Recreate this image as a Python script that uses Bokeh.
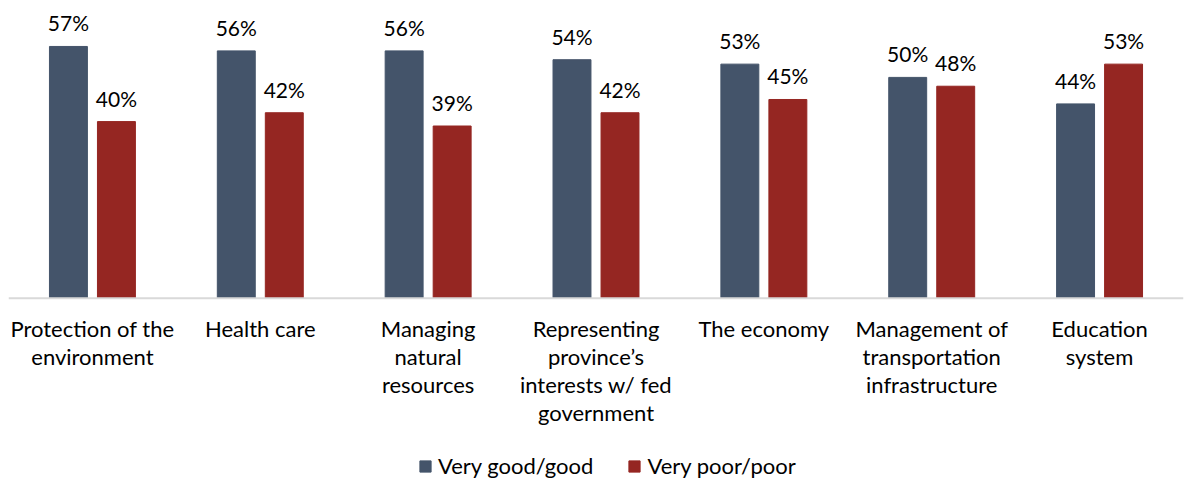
from bokeh.plotting import figure
from bokeh.models import ColumnDataSource, Range1d, Legend, LegendItem, Span
from bokeh.transform import dodge
from bokeh.core.properties import value
from bokeh.embed import file_html
from bokeh.resources import INLINE

categories = ["Protection of the\nenvironment", "Health care", "Managing\nnatural\nresources",
              "Representing\nprovince’s\ninterests w/ fed\ngovernment", "The economy",
              "Management of\ntransportation\ninfrastructure", "Education\nsystem"]
good = [57, 56, 56, 54, 53, 50, 44]
poor = [40, 42, 39, 42, 45, 48, 53]
series_names = ["Very good/good", "Very poor/poor"]

FONT = "Lato"
BLUE = "#44546a"
RED = "#952622"

src = ColumnDataSource(dict(
    cat=categories, good=good, poor=poor, zero=[0] * len(categories),
    good_lbl=[f"{v}%" for v in good], poor_lbl=[f"{v}%" for v in poor],
))

p = figure(x_range=categories, y_range=Range1d(-41.9, 67.4), width=1189, height=483,
           output_backend="svg", toolbar_location=None,
           min_border_left=8, min_border_right=6, min_border_top=0, min_border_bottom=0)

r1 = p.vbar(x=dodge("cat", -0.143, range=p.x_range), top="good", width=0.226, source=src,
            fill_color=BLUE, line_color=BLUE)
r2 = p.vbar(x=dodge("cat", 0.143, range=p.x_range), top="poor", width=0.226, source=src,
            fill_color=RED, line_color=RED)

p.text(x=dodge("cat", -0.143, range=p.x_range), y="good", text="good_lbl", source=src,
       text_align="center", text_baseline="bottom", y_offset=-11,
       text_font=value(FONT), text_font_size="21px", text_color="#000000")
p.text(x=dodge("cat", 0.143, range=p.x_range), y="poor", text="poor_lbl", source=src,
       text_align="center", text_baseline="bottom", y_offset=-11,
       text_font=value(FONT), text_font_size="21px", text_color="#000000")

# category labels under the baseline
p.text(x="cat", y="zero", text="cat", source=src,
       text_align="center", text_baseline="top", y_offset=17, text_line_height=1.03,
       text_font=value(FONT), text_font_size="22px", text_color="#000000")

p.add_layout(Span(location=0, dimension="width", line_color="#d9d9d9", line_width=2))

p.xaxis.visible = False
p.yaxis.visible = False
p.grid.visible = False
p.outline_line_color = None
p.x_range.range_padding = 0

legend = Legend(items=[LegendItem(label=series_names[0], renderers=[r1]),
                       LegendItem(label=series_names[1], renderers=[r2])],
                orientation="horizontal", location=(410, 4),
                label_text_font=FONT, label_text_font_size="22px", label_text_color="#000000",
                glyph_width=14, glyph_height=14, spacing=34, label_standoff=6,
                border_line_color=None, background_fill_alpha=0, padding=0, margin=0)
p.add_layout(legend, "center")

open("out.html", "w").write(file_html(p, INLINE))
